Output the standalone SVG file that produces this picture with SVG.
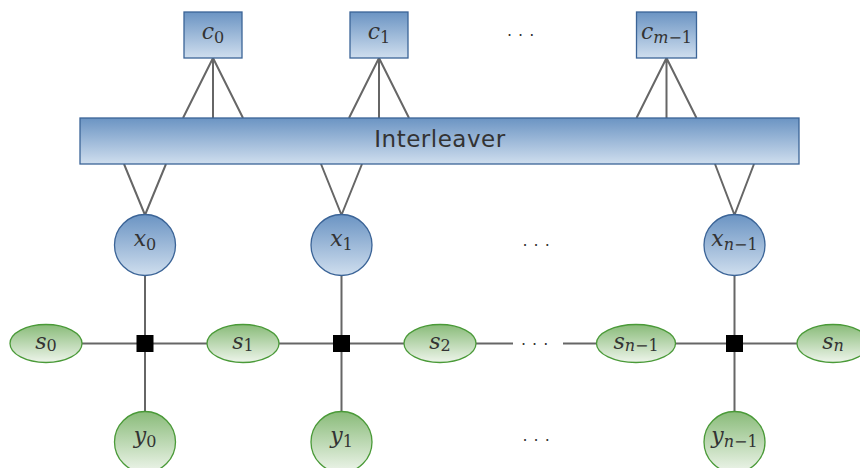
<svg xmlns="http://www.w3.org/2000/svg" width="860" height="468" viewBox="0 0 860 468">
  <defs>
    <linearGradient id="blueFill" x1="0" y1="0" x2="0" y2="1">
      <stop offset="0" stop-color="#6b94c3"/>
      <stop offset="1" stop-color="#cfdeee"/>
    </linearGradient>
    <linearGradient id="greenFill" x1="0" y1="0" x2="0" y2="1">
      <stop offset="0" stop-color="#89bb79"/>
      <stop offset="1" stop-color="#eef5eb"/>
    </linearGradient>
  </defs>
  <style>
    .edge { stroke: #666666; stroke-width: 2; fill: none; }
    .blue { fill: url(#blueFill); stroke: #3b6497; stroke-width: 1.3; }
    .green { fill: url(#greenFill); stroke: #4a9a38; stroke-width: 1.3; }
    .factor { fill: #000000; }
    .math { font-family: "DejaVu Serif", "Liberation Serif", serif; font-size: 22px; fill: #333333; text-anchor: middle; }
    .v { font-style: italic; }
    .sub { font-size: 16px; }
    .label { font-family: "DejaVu Sans", "Verdana", sans-serif; font-size: 23px; letter-spacing: 0.5px; fill: #333333; text-anchor: middle; }
    .dots { font-family: "DejaVu Sans", sans-serif; font-size: 16px; letter-spacing: 6px; fill: #333333; }
  </style>

  <!-- connectors -->
  <g id="connectors">
    <path class="edge" d="M213,58 L183,118 M213,58 L213,118 M213,58 L243,118"/>
    <path class="edge" d="M379,58 L349,118 M379,58 L379,118 M379,58 L409,118"/>
    <path class="edge" d="M666.5,58 L636.5,118 M666.5,58 L666.5,118 M666.5,58 L696.5,118"/>
    <path class="edge" d="M124,164 L145,215 M166,164 L145,215"/>
    <path class="edge" d="M321,164 L341.5,215 M362,164 L341.5,215"/>
    <path class="edge" d="M715,164 L734.5,215 M754,164 L734.5,215"/>
    <path class="edge" d="M145,275 L145,412 M341.5,275 L341.5,412 M734.5,275 L734.5,412"/>
    <path class="edge" d="M82,343.5 L207,343.5 M279,343.5 L404,343.5 M476,343.5 L513,343.5 M563,343.5 L597,343.5 M675,343.5 L797,343.5"/>
  </g>

  <!-- check nodes -->
  <g id="c0">
    <rect class="blue" x="184" y="12" width="58" height="46"/>
    <text class="math" x="213" y="39"><tspan class="v">c</tspan><tspan class="sub" dy="4">0</tspan></text>
  </g>
  <g id="c1">
    <rect class="blue" x="350" y="12" width="58" height="46"/>
    <text class="math" x="379" y="39"><tspan class="v">c</tspan><tspan class="sub" dy="4">1</tspan></text>
  </g>
  <g id="cm1">
    <rect class="blue" x="636.5" y="12" width="60" height="46"/>
    <text class="math" x="666.5" y="39"><tspan class="v">c</tspan><tspan class="sub" dy="4"><tspan class="v">m</tspan>−1</tspan></text>
  </g>
  <text class="dots" x="507" y="41">···</text>

  <!-- interleaver -->
  <g id="interleaver">
    <rect class="blue" x="80" y="118" width="719" height="46"/>
    <text class="label" x="440" y="147">Interleaver</text>
  </g>

  <!-- code bit nodes -->
  <g id="x0">
    <circle class="blue" cx="145" cy="245" r="30.5"/>
    <text class="math" x="145" y="246"><tspan class="v">x</tspan><tspan class="sub" dy="4">0</tspan></text>
  </g>
  <g id="x1">
    <circle class="blue" cx="341.5" cy="245" r="30.5"/>
    <text class="math" x="341.5" y="246"><tspan class="v">x</tspan><tspan class="sub" dy="4">1</tspan></text>
  </g>
  <g id="xn1">
    <circle class="blue" cx="734.5" cy="245" r="30.5"/>
    <text class="math" x="734.5" y="246"><tspan class="v">x</tspan><tspan class="sub" dy="4"><tspan class="v">n</tspan>−1</tspan></text>
  </g>
  <text class="dots" x="522.5" y="251">···</text>

  <!-- state nodes -->
  <g id="s0">
    <ellipse class="green" cx="46" cy="343.5" rx="36" ry="19"/>
    <text class="math" x="46" y="349"><tspan class="v">s</tspan><tspan class="sub" dy="2">0</tspan></text>
  </g>
  <g id="s1">
    <ellipse class="green" cx="243" cy="343.5" rx="36" ry="19"/>
    <text class="math" x="243" y="349"><tspan class="v">s</tspan><tspan class="sub" dy="2">1</tspan></text>
  </g>
  <g id="s2">
    <ellipse class="green" cx="440" cy="343.5" rx="36" ry="19"/>
    <text class="math" x="440" y="349"><tspan class="v">s</tspan><tspan class="sub" dy="2">2</tspan></text>
  </g>
  <text class="dots" x="521" y="349.5">···</text>
  <g id="sn1">
    <ellipse class="green" cx="636" cy="343.5" rx="39.5" ry="19"/>
    <text class="math" x="636" y="349"><tspan class="v">s</tspan><tspan class="sub" dy="2"><tspan class="v">n</tspan>−1</tspan></text>
  </g>
  <g id="sn">
    <ellipse class="green" cx="833" cy="343.5" rx="36" ry="19"/>
    <text class="math" x="833" y="349"><tspan class="v">s</tspan><tspan class="sub" dy="2"><tspan class="v">n</tspan></tspan></text>
  </g>

  <!-- factor nodes -->
  <g id="f0"><rect class="factor" x="136.5" y="335" width="17" height="17"/></g>
  <g id="f1"><rect class="factor" x="333" y="335" width="17" height="17"/></g>
  <g id="fn1"><rect class="factor" x="726" y="335" width="17" height="17"/></g>

  <!-- observation nodes -->
  <g id="y0">
    <circle class="green" cx="145" cy="442" r="30.5"/>
    <text class="math" x="145" y="443"><tspan class="v">y</tspan><tspan class="sub" dy="4">0</tspan></text>
  </g>
  <g id="y1">
    <circle class="green" cx="341.5" cy="442" r="30.5"/>
    <text class="math" x="341.5" y="443"><tspan class="v">y</tspan><tspan class="sub" dy="4">1</tspan></text>
  </g>
  <g id="yn1">
    <circle class="green" cx="734.5" cy="442" r="30.5"/>
    <text class="math" x="734.5" y="443"><tspan class="v">y</tspan><tspan class="sub" dy="4"><tspan class="v">n</tspan>−1</tspan></text>
  </g>
  <text class="dots" x="522.5" y="446">···</text>
</svg>
